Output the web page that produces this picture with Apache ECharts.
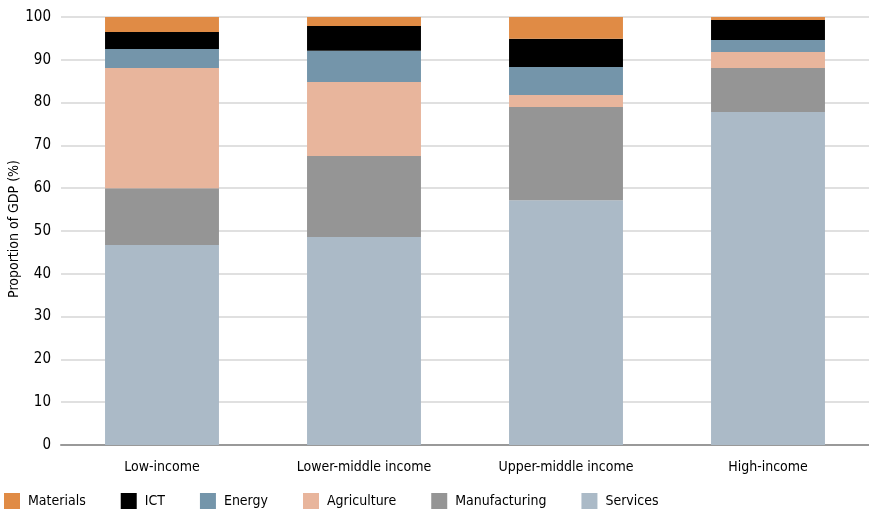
<!DOCTYPE html>
<html>
<head>
<meta charset="utf-8">
<style>
  html, body { margin: 0; padding: 0; background: #fff; }
  #chart { width: 869px; height: 514px; }
</style>
<script src="https://cdn.jsdelivr.net/npm/echarts@6/dist/echarts.min.js"></script>
</head>
<body>
<div id="chart"></div>
<script>
// Income groups on the x axis
const categories = ['Low-income', 'Lower-middle income', 'Upper-middle income', 'High-income'];

// Sector shares of GDP (%), stacked bottom to top
const services      = [46.7, 48.6, 57.2, 77.8];
const manufacturing = [13.3, 18.9, 21.8, 10.3];
const agriculture   = [28.1, 17.3,  2.8,  3.7];
const energy        = [ 4.4,  7.3,  6.5,  2.8];
const ict           = [ 4.0,  5.8,  6.6,  4.7];
const materials     = [ 3.5,  2.1,  5.1,  0.7];

const yTicks = { min: 0, max: 100, step: 10 };
const yTitle = 'Proportion of GDP (%)';

const FONT = '"DejaVu Sans Condensed", "Liberation Sans Narrow", sans-serif';

const sectors = [
  { name: 'Services',      data: services,      color: '#ABBAC7' },
  { name: 'Manufacturing', data: manufacturing, color: '#959595' },
  { name: 'Agriculture',   data: agriculture,   color: '#E8B59C' },
  { name: 'Energy',        data: energy,        color: '#7495AA' },
  { name: 'ICT',           data: ict,           color: '#000000' },
  { name: 'Materials',     data: materials,     color: '#E08B45' }
];

const chart = echarts.init(document.getElementById('chart'), null, { renderer: 'canvas' });

chart.setOption({
  animation: false,
  textStyle: { fontFamily: FONT },
  grid: { left: 61, right: 0, top: 17, bottom: 69, containLabel: false, outerBoundsMode: 'none' },
  // rotated y-axis title, centred on the plot height
  graphic: [{
    type: 'text',
    x: 14,
    y: 229,
    rotation: Math.PI / 2,
    style: {
      text: yTitle,
      fontFamily: FONT,
      fontSize: 14,
      fill: '#000',
      align: 'center',
      verticalAlign: 'middle'
    }
  }],
  legend: {
    data: ['Materials', 'ICT', 'Energy', 'Agriculture', 'Manufacturing', 'Services'],
    left: 4,
    bottom: 5,
    padding: 0,
    itemWidth: 16,
    itemHeight: 16,
    itemGap: 35,
    icon: 'rect',
    textStyle: { fontFamily: FONT, fontSize: 14, color: '#000', padding: [0, 0, 0, 3] }
  },
  xAxis: {
    type: 'category',
    data: categories,
    axisLine: { show: true, lineStyle: { color: '#999999', width: 2 } },
    axisTick: { show: false },
    axisLabel: { fontFamily: FONT, fontSize: 14, color: '#000', margin: 15, interval: 0 }
  },
  yAxis: {
    type: 'value',
    min: yTicks.min,
    max: yTicks.max,
    interval: yTicks.step,
    axisLine: { show: false },
    axisTick: { show: false },
    axisLabel: { fontFamily: FONT, fontSize: 15, color: '#000', margin: 10 },
    splitLine: { lineStyle: { color: '#d6d6d6', width: 1.5 } }
  },
  series: sectors.map(s => ({
    name: s.name,
    type: 'bar',
    stack: 'gdp',
    data: s.data,
    barWidth: '56.4%',
    itemStyle: { color: s.color },
    emphasis: { disabled: true }
  }))
});
</script>
</body>
</html>
